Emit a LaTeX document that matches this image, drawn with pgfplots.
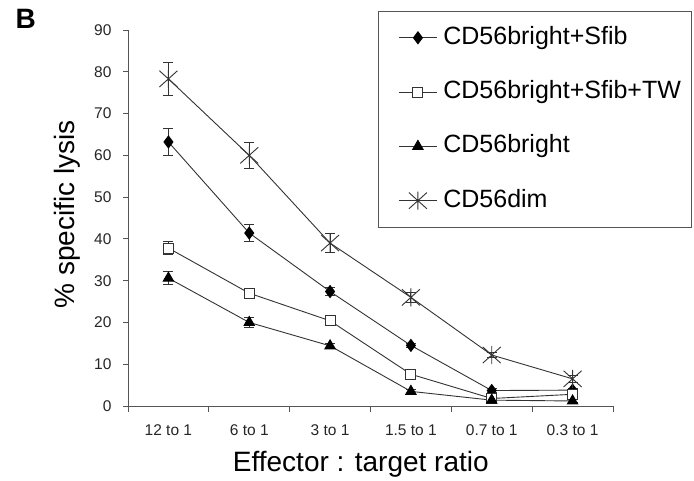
\documentclass[border=0pt]{standalone}
\usepackage{fontspec}
\setmainfont{Liberation Sans}
\usepackage{pgfplots}
\pgfplotsset{compat=1.18}

% X with a vertical stroke, as used for CD56dim
\pgfdeclareplotmark{xstar}{%
  \pgfpathmoveto{\pgfpoint{-\pgfplotmarksize}{-0.9\pgfplotmarksize}}%
  \pgfpathlineto{\pgfpoint{\pgfplotmarksize}{0.9\pgfplotmarksize}}%
  \pgfpathmoveto{\pgfpoint{-\pgfplotmarksize}{0.9\pgfplotmarksize}}%
  \pgfpathlineto{\pgfpoint{\pgfplotmarksize}{-0.9\pgfplotmarksize}}%
  \pgfpathmoveto{\pgfpoint{0pt}{-\pgfplotmarksize}}%
  \pgfpathlineto{\pgfpoint{0pt}{\pgfplotmarksize}}%
  \pgfusepathqstroke}

\definecolor{ln}{HTML}{333333}
\definecolor{ax}{HTML}{555555}

\begin{document}
\begin{tikzpicture}
\begin{axis}[
    name=main,
    scale only axis,
    width=485bp, height=376bp,
    xmin=-0.5, xmax=5.5, ymin=0, ymax=90,
    axis lines=left,
    axis line style={-, draw=ax, line width=0.9bp},
    tick align=outside,
    ytick={0,10,...,90},
    xtick={0,...,5},
    xticklabels={12 to 1,6 to 1,3 to 1,1.5 to 1,0.7 to 1,0.3 to 1},
    minor xtick={-0.5,0.5,...,5.5},
    major x tick style={draw=none},
    minor x tick style={draw=ax, line width=0.9bp},
    minor tick length=6bp,
    major y tick style={draw=ax, line width=0.9bp},
    major tick length=5bp,
    /pgf/number format/assume math mode=true,
    tick label style={font=\fontsize{15.5bp}{18bp}\selectfont, text=black!85},
    xticklabel style={yshift=-10bp},
    yticklabel style={xshift=-8bp},
    xlabel={Effector : target ratio},
    ylabel={\% specific lysis},
    label style={font=\fontsize{28bp}{32bp}\selectfont},
    xlabel style={at={(axis description cs:0.48,-0.1747)}, anchor=base},
    ylabel style={at={(axis description cs:-0.1093,0.51)}, anchor=base},
    legend style={
        at={(axis description cs:0.5155,1.051)}, anchor=north west,
        draw=ax, line width=0.9bp,
        inner xsep=8bp, inner ysep=13bp,
        row sep=27.3bp, column sep=4bp,
        nodes={inner sep=2bp, text height=18bp, text depth=5bp, anchor=west},
        font=\fontsize{25bp}{30bp}\selectfont,
    },
    legend cell align=left,
    legend image code/.code={%
        \path (0bp,0bp);
        \draw[mark repeat=2,mark phase=2] plot coordinates {(12bp,0bp)(31bp,0bp)(50bp,0bp)};},
    every axis plot/.append style={draw=ln, line width=0.9bp},
    error bars/error bar style={draw=ln, line width=0.9bp},
    error bars/error mark options={rotate=90, draw=ln, line width=0.9bp, mark size=5bp},
    clip=false,
]

\addplot[mark=diamond*, mark size=6bp, mark options={fill=black, draw=black},
    error bars/.cd, y dir=both, y explicit]
    coordinates {
    (0,63.2) +- (0,3.3)
    (1,41.4) +- (0,2.0)
    (2,27.4) +- (0,1.0)
    (3,14.5) +- (0,0.5)
    (4,3.7)  +- (0,0.5)
    (5,3.8)  +- (0,0.5)
};
\addlegendentry{CD56bright+Sfib}

\addplot[mark=square*, mark size=5bp, mark options={fill=white, draw=ln},
    error bars/.cd, y dir=both, y explicit]
    coordinates {
    (0,37.8) +- (0,1.6)
    (1,27.0) +- (0,0.6)
    (2,20.4) +- (0,1.0)
    (3,7.6)  +- (0,0.6)
    (4,1.8)  +- (0,0.4)
    (5,2.8)  +- (0,0.4)
};
\addlegendentry{CD56bright+Sfib+TW}

\addplot[mark=triangle*, mark size=6bp, mark options={fill=black, draw=black},
    error bars/.cd, y dir=both, y explicit]
    coordinates {
    (0,30.6) +- (0,1.6)
    (1,20.0) +- (0,1.2)
    (2,14.4) +- (0,0.6)
    (3,3.5)  +- (0,0.5)
    (4,1.4)  +- (0,0.3)
    (5,1.2)  +- (0,0.3)
};
\addlegendentry{CD56bright}

\addplot[mark=xstar, mark size=9bp, mark options={draw=ln},
    error bars/.cd, y dir=both, y explicit]
    coordinates {
    (0,78.3) +- (0,3.9)
    (1,60.0) +- (0,3.2)
    (2,39.0) +- (0,2.2)
    (3,26.0) +- (0,1.2)
    (4,12.2) +- (0,0.6)
    (5,6.5)  +- (0,0.8)
};
\addlegendentry{CD56dim}

\node[anchor=base west, font=\bfseries\fontsize{28bp}{32bp}\selectfont]
    at (axis description cs:-0.2392,1.0053) {B};
\end{axis}
\path (main.south west) ++(-128bp,-75bp) rectangle ++(694bp,481bp);
\end{tikzpicture}
\end{document}
